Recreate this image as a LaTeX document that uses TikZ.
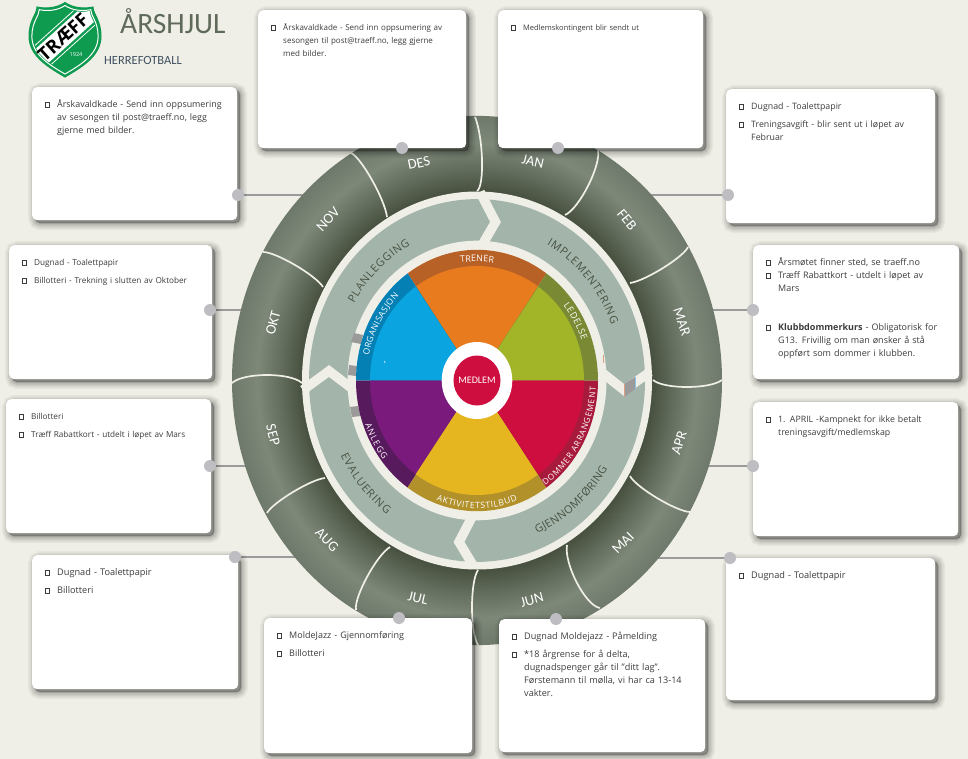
\documentclass[tikz,border=0pt]{standalone}
\usepackage{fontspec}
\setmainfont{Open Sans}
\newfontfamily\labelfont{Carlito}
\usetikzlibrary{calc}
\usetikzlibrary{backgrounds}
\usetikzlibrary{decorations.text}

\definecolor{bgcream}{HTML}{EFEFE7}
\definecolor{quadgrey}{HTML}{A3B4AB}
\definecolor{monthdark}{HTML}{495240}
\definecolor{monthmid}{HTML}{626C5C}
\definecolor{monthlight}{HTML}{7D8879}
\definecolor{monthedge}{HTML}{6E796B}
\definecolor{ringtext}{HTML}{4A5341}
\definecolor{boxtext}{HTML}{3C3C3C}
\definecolor{dotgrey}{HTML}{BDBDC2}
\definecolor{linegrey}{HTML}{9A9A9A}
\definecolor{shieldgreen}{HTML}{0E9A4F}
\definecolor{medlemred}{HTML}{CE0E3E}
\definecolor{titlegrey}{HTML}{5F6A5B}
\definecolor{fotballblue}{HTML}{3F5060}
\definecolor{tanmark}{HTML}{D9A080}
\definecolor{bluemark}{HTML}{8FC4E8}

\pgfdeclareradialshading{monthshade}{\pgfpointorigin}{%
    color(0bp)=(monthdark); color(18bp)=(monthdark); color(20bp)=(monthmid);
    color(22.4bp)=(monthlight); color(25bp)=(monthedge); color(50bp)=(monthedge)}

\newcommand{\bulsq}{{\fboxsep=0pt\fboxrule=0.6pt\fbox{\rule{3.4pt}{0pt}\rule{0pt}{4.4pt}}}}
\newcommand{\litem}[2][0pt]{\ifdim#1>0pt\vspace{#1}\fi\noindent\hangindent=12pt\hangafter=1%
    \makebox[12pt][l]{\bulsq}#2\par}
\newcommand{\arclabel}[6]{%
    \path[decorate, decoration={text along path, text align={fit to path}, text color=#5,
        text={|\fontsize{#4}{12}\selectfont|#6}}]
        plot[domain=#1:#2, samples=40] ({#3*cos(\x)},{#3*1.08*sin(\x)});}
\newcommand{\shieldpath}{(65,2.5) .. controls (57,8) and (46,9) .. (37,7) .. controls (37,14) and (29,20) .. (29,36)
    .. controls (29,55) and (46,66) .. (65,77) .. controls (84,66) and (101,55) .. (101,36)
    .. controls (101,20) and (93,14) .. (93,7) .. controls (84,9) and (73,8) .. (65,2.5) -- cycle}

\tikzset{
    shadowstep/.style 2 args={preaction={draw=black, fill=black, opacity=#1, line width=#2pt, transform canvas={shift={(3pt,-3pt)}}}},
    softshadow/.style={shadowstep={.04}{14}, shadowstep={.05}{11}, shadowstep={.06}{8}, shadowstep={.07}{5}, shadowstep={.09}{2}},
    infobox/.style={rectangle, rounded corners=5pt, fill=white, softshadow, anchor=north west,
        inner xsep=13pt, inner ysep=11pt, text height=9pt, align=left, text=boxtext},
    box size/.style 2 args={text width=#1pt-26pt, text depth=#2pt-31pt},
    textsize/.style={font=\fontsize{#1}{13}\selectfont},
    monthlabel/.style={text=white, font=\labelfont\fontsize{14.5}{15}\selectfont, inner sep=0pt},
    linkdot/.style={circle, fill=dotgrey, minimum size=12pt, inner sep=0pt},
    link/.style={draw=linegrey, line width=2.5pt},
    chevron/.style={draw=bgcream, line width=9.5pt, miter limit=10},
    monthcut/.style={draw=bgcream, line width=1.7pt}
}

\begin{document}
\begin{tikzpicture}[x=1pt, y=-1pt]
    \useasboundingbox (0,0) rectangle (968,759);
    \begin{scope}[on background layer]
        \fill[bgcream] (0,0) rectangle (968,759);
    \end{scope}

    \begin{scope}[shift={(477,380.5)}, y=1pt]
        \shade[shading=monthshade] (0,0) ellipse [x radius=245, y radius=264.6];
        \fill[bgcream] (0,0) ellipse [x radius=175, y radius=189];
        \fill[quadgrey] (0,0) ellipse [x radius=168, y radius=181.4];
        \fill[bgcream] (0,0) ellipse [x radius=129.5, y radius=139.8];
    \end{scope}

    \draw[chevron] (480,192) -- (495.5,222) -- (481,247);
    \draw[chevron] (473,515) -- (459,542) -- (474,567);
    \draw[chevron] (303,390) -- (329,371) -- (354,390);
    \draw[chevron] (600,371) -- (624,390) -- (650,372);
    \fill[linegrey] (624,384) -- (635,377) -- (635,389) -- (624,397) -- cycle;
    \draw[tanmark, line width=.6pt] (624,384) -- (624,397);
    \draw[bluemark, line width=.6pt] (635,377) -- (635,389);
    \draw[tanmark, line width=.8pt] (603.5,355) -- (603.5,363);
    \fill[linegrey] (354,333) -- (363,335) -- (361,344) -- (351,342) -- cycle;
    \fill[linegrey] (349,365) -- (357,366) -- (356,376) -- (348,375) -- cycle;
    \fill[linegrey] (350,407) -- (358,406) -- (361,416) -- (352,417) -- cycle;

    \begin{scope}[shift={(477,380.5)}, y=1pt]
        \foreach \a/\b/\fillc/\bandc in {55/125/E87B1E/B86126, 0/55/A2B427/7A8A34, 125/180/0AA5E0/0480B4,
                180/235/7A1A7C/571A5C, 235/305/E5B61F/B2912B, 305/360/CE0E3E/A81A3B} {
            \definecolor{bandcol}{HTML}{\bandc}
            \definecolor{fillcol}{HTML}{\fillc}
            \fill[bandcol] (0,0) -- (\a:121 and 130.7) arc [start angle=\a, end angle=\b, x radius=121, y radius=130.7] -- cycle;
            \fill[fillcol] (0,0) -- (\a:107 and 114.5) arc [start angle=\a, end angle=\b, x radius=107, y radius=114.5] -- cycle;
        }
        \fill[white] (0,0) ellipse [x radius=35.3, y radius=38.5];
        \fill[medlemred] (0,0) ellipse [x radius=23.5, y radius=25];
        \node[text=white, font=\labelfont\fontsize{10}{11}\selectfont, inner sep=0pt] (medlem) at (0,0) {MEDLEM};
        \draw[white, line width=.6pt] (-92.5,19.5) -- (-92,17.5);

        \arclabel{150}{118}{142}{11}{ringtext}{PLANLEGGING}
        \arclabel{61}{21}{144}{11}{ringtext}{IMPLEMENTERING}
        \arclabel{-67}{-32}{154}{11}{ringtext}{GJENNOMFØRING}
        \arclabel{207}{234}{153}{11}{ringtext}{EVALUERING}
        \arclabel{98.5}{81.5}{110}{9}{white}{TRENER}
        \arclabel{168}{135}{110.5}{8.6}{white}{ORGANISASJON}
        \arclabel{39}{19.5}{111}{9}{white}{LEDELSE}
        \arclabel{-55}{-3}{119}{8.3}{white}{DOMMER ARRANGEMENT}
        \arclabel{250}{290}{118.5}{8.6}{white}{AKTIVITETSTILBUD}
        \arclabel{200}{218}{119}{8.6}{white}{ANLEGG}
    \end{scope}

    \foreach \xa/\ya/\xm/\ym/\xb/\yb in {475/117/482/160/477/191, 598/150/588/186/565/215,
            688/247/663/268/630/283, 722/380/687/387/653/380, 630/476/657/498/690/512,
            600/608/577/583/567/545, 478/570/472/607/478/645, 390/547/367/577/356/610,
            267/513/293/492/325/478, 232/383/267/375/302/383, 263/252/295/265/323/287,
            351/153/372/180/387/217} {
        \pgfmathsetmacro{\xp}{\xa/6+4*\xm/3-\xb/2}
        \pgfmathsetmacro{\yp}{\ya/6+4*\ym/3-\yb/2}
        \pgfmathsetmacro{\xq}{\xb/6+4*\xm/3-\xa/2}
        \pgfmathsetmacro{\yq}{\yb/6+4*\ym/3-\ya/2}
        \draw[monthcut] (\xa,\ya) .. controls (\xp,\yp) and (\xq,\yq) .. (\xb,\yb);
    }

    \foreach \m/\x/\y/\r in {DES/419/163/12, JAN/533/162/-13, FEB/627/220/-50, MAR/682/322/-72,
            APR/679/443/72, MAI/623/543/45, JUN/532/600/15, JUL/418/598/-13,
            AUG/327/540/-45, SEP/273/435/-75, OKT/273/323/75, NOV/328/219/48} {
        \node[monthlabel, rotate=\r] (label\m) at (\x,\y) {\m};
    }

    \node[infobox, box size={208}{138}, textsize=8.0] (boxdes) at (258,10) {\litem{Årskavaldkade - Send inn oppsumering av\newline sesongen til post@traeff.no, legg gjerne\newline med bilder.}};
    \node[infobox, box size={205}{138}, textsize=7.5] (boxjan) at (498,10) {\litem{Medlemskontingent blir sendt ut}};
    \node[infobox, box size={205}{133}, textsize=8.9] (boxnov) at (32,87) {\litem{Årskavaldkade - Send inn oppsumering\newline av sesongen til post@traeff.no, legg\newline gjerne med bilder.}};
    \node[infobox, box size={209}{134}, textsize=8.8] (boxfeb) at (726,89) {\litem{Dugnad - Toalettpapir}\litem[5pt]{Treningsavgift - blir sent ut i løpet av\newline Februar}};
    \node[infobox, box size={203}{134}, textsize=8.2] (boxokt) at (9,245) {\litem{Dugnad - Toalettpapir}\litem[5pt]{Billotteri - Trekning i slutten av Oktober}};
    \node[infobox, box size={206}{134}, textsize=9.0] (boxmar) at (753,245) {\litem{Årsmøtet finner sted, se traeff.no}\litem{Træff Rabattkort - utdelt i løpet av\newline Mars}\litem[26pt]{\textbf{Klubbdommerkurs} - Obligatorisk for\newline G13. Frivillig om man ønsker å stå\newline oppført som dommer i klubben.}};
    \node[infobox, box size={205}{134}, textsize=8.2] (boxsep) at (6,399) {\litem{Billotteri}\litem[5pt]{Træff Rabattkort - utdelt i løpet av Mars}};
    \node[infobox, box size={205}{134}, textsize=8.8] (boxapr) at (753,402) {\litem{1. APRIL -Kampnekt for ikke betalt\newline treningsavgift/medlemskap}};
    \node[infobox, box size={206}{134}, textsize=9.2] (boxaug) at (32,555) {\litem{Dugnad - Toalettpapir}\litem[5pt]{Billotteri}};
    \node[infobox, box size={209}{142}, textsize=9.2] (boxmai) at (726,558) {\litem{Dugnad - Toalettpapir}};
    \node[infobox, box size={208}{135}, textsize=9.0] (boxjul) at (264,618) {\litem{MoldeJazz - Gjennomføring}\litem[5pt]{Billotteri}};
    \node[infobox, box size={206}{133}, textsize=9.1] (boxjun) at (499,619) {\litem{Dugnad Moldejazz - Påmelding}\litem[5pt]{*18 årgrense for å delta,\newline dugnadspenger går til "ditt lag".\newline Førstemann til mølla, vi har ca 13-14\newline vakter.}};

    \node[linkdot] (dotnov) at (238,195) {};
    \node[linkdot] (dotfeb) at (728,195) {};
    \node[linkdot] (dotokt) at (210,310) {};
    \node[linkdot] (dotmar) at (753,310) {};
    \node[linkdot] (dotsep) at (210,466) {};
    \node[linkdot] (dotapr) at (753,466) {};
    \node[linkdot] (dotaug) at (235,557) {};
    \node[linkdot] (dotmai) at (730,558) {};
    \node[linkdot] (dotdes) at (402,148) {};
    \node[linkdot] (dotjan) at (558,148) {};
    \node[linkdot] (dotjul) at (399,618) {};
    \node[linkdot] (dotjun) at (556,619) {};

    \coordinate (ringnov) at (320,195);
    \coordinate (ringfeb) at (640,195);
    \coordinate (ringokt) at (260,310);
    \coordinate (ringmar) at (700,310);
    \coordinate (ringsep) at (260,466);
    \coordinate (ringapr) at (700,466);
    \coordinate (ringaug) at (320,557);
    \coordinate (ringmai) at (640,558);
    \begin{scope}[on background layer]
        \foreach \m in {nov,feb,okt,mar,sep,apr,aug,mai} {
            \draw[link] (dot\m) -- (ring\m);
        }
    \end{scope}

    \filldraw[draw=shieldgreen, fill=shieldgreen, line width=1pt] \shieldpath;
    \begin{scope}[shift={(65,40)}, scale=.92, shift={(-65,-40)}]
        \draw[white, line width=1pt] \shieldpath;
    \end{scope}
    \begin{scope}
        \clip[shift={(65,40)}, scale=.88, shift={(-65,-40)}] \shieldpath;
        \fill[white, rotate around={42:(63,37)}] (3,27.5) rectangle (123,46.5);
        \draw[white, line width=.8pt, rotate around={42:(63,37)}] (3,49.5) -- (123,49.5);
        \draw[white, line width=.8pt, rotate around={42:(63,37)}] (3,24.5) -- (123,24.5);
    \end{scope}
    \node[rotate=42, font=\bfseries\fontsize{18.5}{20}\selectfont, inner sep=0pt] (logoname) at (63,37) {TRÆFF};
    \node[text=white, font=\fontsize{5.5}{6}\selectfont, inner sep=0pt] (logoyear) at (76,55) {1924};
    \node[anchor=west, text=titlegrey, font=\labelfont\fontsize{29.5}{34}\selectfont, inner sep=0pt] (title) at (120,21) {ÅRSHJUL};
    \node[anchor=west, text=fotballblue, font=\labelfont\fontsize{12.5}{13}\selectfont, inner sep=0pt] (subtitle) at (104,60) {HERREFOTBALL};
\end{tikzpicture}
\end{document}
